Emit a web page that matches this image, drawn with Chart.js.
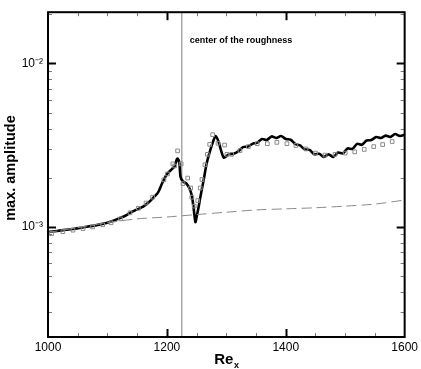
<!DOCTYPE html>
<html>
<head>
<meta charset="utf-8">
<script src="https://cdn.jsdelivr.net/npm/chart.js@4.4.1/dist/chart.umd.min.js"></script>
<style>
html, body { margin: 0; padding: 0; background: #fff; }
</style>
</head>
<body>
<canvas id="ampChart" width="421" height="369"></canvas>
<script>
// Re_x positions and max. amplitude (in units of 1e-3)
const solidRe = [1000, 1015, 1030, 1045, 1060, 1075, 1090, 1100, 1110, 1120, 1130, 1140, 1150, 1160, 1170,
    1178, 1185, 1192, 1200, 1208, 1213, 1216, 1218, 1221, 1223, 1227, 1233, 1238, 1242, 1245, 1248, 1250,
    1253, 1256, 1262, 1267, 1273, 1278, 1282, 1287, 1291, 1296, 1304, 1312, 1320, 1328, 1336, 1344, 1352,
    1360, 1368, 1376, 1384, 1392, 1400, 1408, 1416, 1424, 1432, 1440, 1448, 1456, 1464, 1472, 1480, 1488,
    1496, 1504, 1512, 1520, 1528, 1536, 1544, 1552, 1560, 1568, 1576, 1584, 1592, 1600];
const solidAmp = [0.930, 0.945, 0.960, 0.975, 0.995, 1.015, 1.04, 1.06, 1.09, 1.13, 1.17, 1.23, 1.28, 1.33, 1.42,
    1.52, 1.62, 1.85, 2.10, 2.25, 2.35, 2.55, 2.62, 2.45, 2.02, 1.90, 1.84, 1.72, 1.55, 1.30, 1.07, 1.15,
    1.30, 1.50, 1.95, 2.45, 2.95, 3.35, 3.60, 3.32, 2.95, 2.65, 2.78, 2.80, 2.90, 3.08, 3.10, 3.22, 3.28,
    3.45, 3.40, 3.58, 3.50, 3.60, 3.45, 3.42, 3.22, 3.15, 2.98, 2.96, 2.78, 2.80, 2.68, 2.78, 2.68, 2.85,
    2.82, 3.02, 3.00, 3.22, 3.18, 3.38, 3.40, 3.55, 3.50, 3.62, 3.55, 3.70, 3.60, 3.66];

const dashRe = [1000, 1050, 1100, 1150, 1200, 1250, 1300, 1350, 1400, 1450, 1500, 1550, 1600];
const dashAmp = [0.925, 0.99, 1.06, 1.12, 1.15, 1.19, 1.23, 1.27, 1.29, 1.31, 1.34, 1.38, 1.46];

const squareRe = [1006, 1025, 1042, 1059, 1075, 1092, 1106, 1122, 1138, 1152, 1165, 1176, 1195, 1201, 1210,
    1213, 1218, 1224, 1227, 1235, 1240, 1242, 1246, 1252, 1256, 1259, 1264, 1268, 1272, 1277, 1286, 1297,
    1301, 1309, 1323, 1337, 1352, 1369, 1385, 1402, 1417, 1434, 1450, 1466, 1483, 1500, 1516, 1532, 1548,
    1563, 1579];
const squareAmp = [0.91, 0.935, 0.955, 0.977, 1.00, 1.03, 1.06, 1.12, 1.22, 1.30, 1.40, 1.52, 1.94, 2.11, 2.43,
    2.36, 2.92, 2.43, 1.84, 1.99, 1.73, 1.52, 1.34, 1.45, 1.73, 1.95, 2.40, 2.78, 3.20, 3.67, 3.25, 3.17,
    2.78, 2.78, 2.93, 3.10, 3.23, 3.23, 3.29, 3.23, 3.15, 3.00, 2.83, 2.75, 2.78, 2.83, 2.88, 2.98, 3.10,
    3.19, 3.33];

const roughnessRe = 1225;

const xTickValues = [1000, 1200, 1400, 1600];
const yTickValues = [1e-3, 1e-2];
const yTickLabels = ['10\u207B\u00B3', '10\u207B\u00B2'];

const FONT = '"Liberation Sans", Arial, Helvetica, sans-serif';

const toPoints = (xs, ys) => xs.map((x, i) => ({ x: x, y: ys[i] * 1e-3 }));

// inward tick marks, frame, roughness line and axis titles
const plotDecor = {
    id: 'plotDecor',
    beforeDatasetsDraw(chart) {
        const { ctx, chartArea: a, scales: { x } } = chart;
        const px = x.getPixelForValue(roughnessRe);
        ctx.save();
        ctx.strokeStyle = '#a8a8a8';
        ctx.lineWidth = 1.5;
        ctx.beginPath();
        ctx.moveTo(px, a.top);
        ctx.lineTo(px, a.bottom);
        ctx.stroke();
        ctx.restore();
    },
    afterDraw(chart) {
        const { ctx, chartArea: a, scales: { x, y } } = chart;
        ctx.save();

        const tick = (x1, y1, x2, y2, major) => {
            ctx.strokeStyle = major ? '#000' : '#777';
            ctx.lineWidth = major ? 2 : 1;
            ctx.beginPath();
            ctx.moveTo(x1, y1);
            ctx.lineTo(x2, y2);
            ctx.stroke();
        };

        for (let v = 1050; v < 1600; v += 50) {
            const major = xTickValues.includes(v);
            const len = major ? 8 : 4;
            const px = Math.round(x.getPixelForValue(v)) + 0.5;
            tick(px, a.bottom, px, a.bottom - len, major);
            tick(px, a.top, px, a.top + len, major);
        }

        [1e-4, 1e-3, 1e-2].forEach(dec => {
            for (let m = 1; m <= 9; m++) {
                const v = m * dec;
                if (v < y.min || v > y.max) continue;
                const major = m === 1;
                const len = major ? 8 : 4;
                const py = Math.round(y.getPixelForValue(v)) + 0.5;
                tick(a.left, py, a.left + len, py, major);
                tick(a.right, py, a.right - len, py, major);
            }
        });

        ctx.strokeStyle = '#000';
        ctx.lineWidth = 2;
        ctx.strokeRect(a.left, a.top, a.right - a.left, a.bottom - a.top);

        // annotation
        ctx.fillStyle = '#000';
        ctx.font = 'bold 9px ' + FONT;
        ctx.textBaseline = 'middle';
        ctx.textAlign = 'left';
        ctx.fillText('center of the roughness', x.getPixelForValue(roughnessRe) + 8, a.top + 28);

        // x axis title with subscript
        ctx.textBaseline = 'alphabetic';
        ctx.font = 'bold 15px ' + FONT;
        const w1 = ctx.measureText('Re').width;
        ctx.font = 'bold 9px ' + FONT;
        const w2 = ctx.measureText('x').width;
        const start = (a.left + a.right) / 2 - (w1 + w2) / 2;
        ctx.font = 'bold 15px ' + FONT;
        ctx.fillText('Re', start, 364);
        ctx.font = 'bold 9px ' + FONT;
        ctx.fillText('x', start + w1 + 0.5, 368);

        // y axis title
        ctx.translate(14.5, 168);
        ctx.rotate(-Math.PI / 2);
        ctx.textAlign = 'center';
        ctx.font = 'bold 14.5px ' + FONT;
        ctx.fillText('max. amplitude', 0, 0);

        ctx.restore();
    }
};

const ctx = document.getElementById('ampChart').getContext('2d');
new Chart(ctx, {
    type: 'line',
    data: {
        datasets: [
            {
                label: 'squares',
                data: toPoints(squareRe, squareAmp),
                showLine: false,
                pointStyle: 'rect',
                pointRadius: 2.6,
                pointBorderWidth: 1,
                pointBorderColor: '#8a8a8a',
                pointBackgroundColor: 'rgba(0,0,0,0)'
            },
            {
                label: 'dashed',
                data: toPoints(dashRe, dashAmp),
                borderColor: '#8a8a8a',
                borderWidth: 1,
                borderDash: [10, 5],
                pointRadius: 0,
                tension: 0.3
            },
            {
                label: 'solid',
                data: toPoints(solidRe, solidAmp),
                borderColor: '#000',
                borderWidth: 2.6,
                pointRadius: 0,
                tension: 0.25
            }
        ]
    },
    options: {
        responsive: false,
        animation: false,
        devicePixelRatio: 1,
        layout: { autoPadding: false, padding: { top: 9, right: 13, left: 0, bottom: 0 } },
        plugins: {
            legend: { display: false },
            tooltip: { enabled: false }
        },
        scales: {
            x: {
                type: 'linear',
                min: 1000,
                max: 1600,
                afterBuildTicks: s => { s.ticks = xTickValues.map(v => ({ value: v })); },
                afterFit: s => { s.height = 32; },
                grid: { display: false, drawTicks: false },
                border: { display: false },
                ticks: {
                    color: '#000',
                    padding: 3,
                    maxRotation: 0,
                    autoSkip: false,
                    font: { size: 12, family: FONT },
                    callback: v => String(v)
                }
            },
            y: {
                type: 'logarithmic',
                min: 2.12e-4,
                max: 2.06e-2,
                afterBuildTicks: s => { s.ticks = yTickValues.map(v => ({ value: v })); },
                afterFit: s => { s.width = 48; },
                grid: { display: false, drawTicks: false },
                border: { display: false },
                ticks: {
                    color: '#000',
                    padding: 5,
                    autoSkip: false,
                    font: { size: 12, family: FONT },
                    callback: v => {
                        const i = yTickValues.findIndex(t => Math.abs(t - v) / t < 1e-6);
                        return i >= 0 ? yTickLabels[i] : '';
                    }
                }
            }
        }
    },
    plugins: [plotDecor]
});
</script>
</body>
</html>
